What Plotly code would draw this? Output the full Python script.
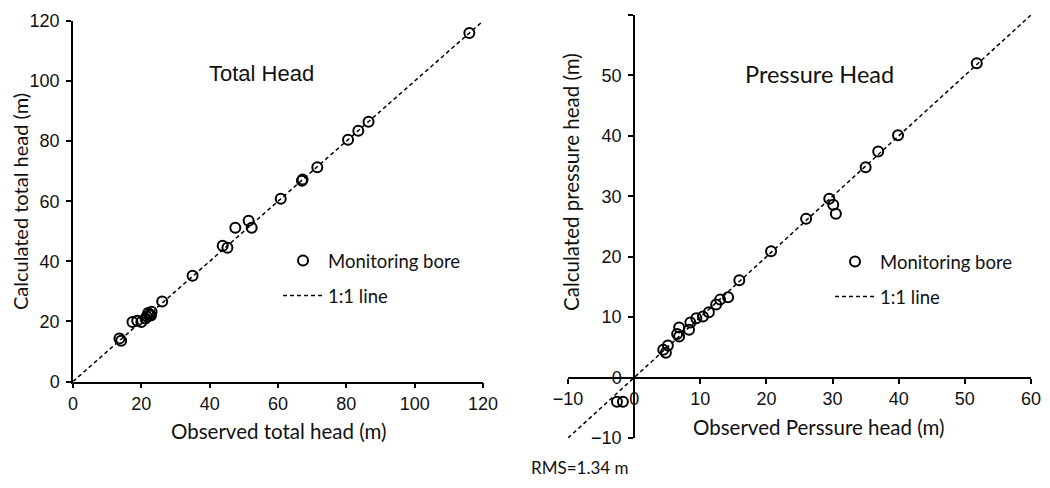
import plotly.graph_objects as go

# ---------------- data ----------------
# Total head (m): observed vs calculated
total_obs = [116.0, 86.5, 83.5, 80.5, 71.5, 67.0, 67.2, 60.8, 51.4, 52.3, 47.5,
             43.8, 45.2, 35.0, 26.1, 23.0, 22.5, 22.0, 21.6, 22.8, 21.2, 20.0,
             18.8, 17.4, 13.6, 14.1]
total_calc = [116.0, 86.5, 83.5, 80.5, 71.3, 66.8, 67.2, 60.8, 53.5, 51.2, 51.2,
              45.2, 44.5, 35.2, 26.6, 23.2, 22.2, 22.8, 21.6, 22.0, 21.0, 19.8,
              20.2, 19.8, 14.3, 13.6]

# Pressure head (m): observed vs calculated
press_obs = [51.8, 39.9, 36.9, 35.0, 29.5, 30.1, 30.5, 26.0, 20.7, 15.9, 14.2,
             13.0, 12.4, 11.3, 10.4, 9.4, 8.5, 8.3, 6.8, 6.8, 6.5, 5.1, 4.4, 4.8,
             -2.6, -1.7]
press_calc = [52.0, 40.1, 37.4, 34.8, 29.6, 28.6, 27.1, 26.3, 20.9, 16.1, 13.3,
              12.9, 12.1, 10.8, 10.1, 9.8, 9.1, 7.9, 8.3, 6.8, 7.2, 5.3, 4.6, 4.1,
              -4.0, -4.0]

line_total = [0, 120]
line_press = [-10, 60]

total_ticks = [0, 20, 40, 60, 80, 100, 120]
press_ticks = [-10, 0, 10, 20, 30, 40, 50, 60]

# ---------------- figure ----------------
# the page body has an 8px margin, so the figure is drawn 8px in from the window edge
OFF = 8
W, H = 1050 - 2 * OFF, 488 - 2 * OFF


def px_x(p):
    return (p - OFF) / W


def px_y(p):
    return 1 - (p - OFF) / H


TICKFONT = dict(family="Liberation Sans, Arial", size=18, color="#111")
LATO = "Lato, Noto Sans, sans-serif"
marker = dict(symbol="circle-open", size=10, color="black", line=dict(width=2, color="black"))
dline = dict(color="black", width=1.5, dash="4px,3px")

fig = go.Figure()

fig.add_trace(go.Scatter(x=total_obs, y=total_calc, mode="markers", marker=marker,
                         name="Monitoring bore", xaxis="x", yaxis="y",
                         legend="legend", legendgroup="a"))
fig.add_trace(go.Scatter(x=line_total, y=line_total, mode="lines", line=dline,
                         name="1:1 line", xaxis="x", yaxis="y",
                         legend="legend", legendgroup="b"))
fig.add_trace(go.Scatter(x=press_obs, y=press_calc, mode="markers", marker=marker,
                         name="Monitoring bore", xaxis="x2", yaxis="y2",
                         legend="legend2", legendgroup="c"))
fig.add_trace(go.Scatter(x=line_press, y=line_press, mode="lines", line=dline,
                         name="1:1 line", xaxis="x2", yaxis="y2",
                         legend="legend2", legendgroup="d"))

axis_common = dict(showgrid=False, zeroline=False, showline=True, linecolor="black",
                   linewidth=1.5, ticks="outside", ticklen=5, tickwidth=1.5,
                   tickcolor="black", tickfont=TICKFONT, automargin=False)

legend_common = dict(xanchor="left", yanchor="top",
                     font=dict(family=LATO, size=18.5, color="#111"),
                     bgcolor="rgba(0,0,0,0)", tracegroupgap=8, traceorder="grouped",
                     itemwidth=40)

fig.update_layout(
    width=W, height=H,
    margin=dict(l=0, r=0, t=0, b=0),
    paper_bgcolor="white", plot_bgcolor="white",
    xaxis=dict(domain=[px_x(73), px_x(483)], range=[0, 120], tickvals=total_ticks,
               anchor="y", **axis_common),
    yaxis=dict(domain=[px_y(381.5), px_y(21)], range=[0, 120], tickvals=total_ticks,
               anchor="x", ticklabelstandoff=3, **axis_common),
    xaxis2=dict(domain=[px_x(568), px_x(1031)], range=[-10, 60], tickvals=press_ticks,
                anchor="free", position=px_y(378), **axis_common),
    yaxis2=dict(domain=[px_y(438), px_y(15)], range=[-10, 60], tickvals=press_ticks,
                anchor="free", position=px_x(634), ticklabelstandoff=3, **axis_common),
    legend=dict(x=px_x(278), y=px_y(242), **legend_common),
    legend2=dict(x=px_x(830), y=px_y(243), **legend_common),
)

annots = [
    dict(text="Total Head", x=px_x(262), y=px_y(74),
         font=dict(family="Liberation Sans, Arial", size=22, color="#111")),
    dict(text="Pressure Head", x=px_x(819), y=px_y(74),
         font=dict(family=LATO, size=23.5, color="#111")),
    dict(text="Calculated total head (m)", x=px_x(20), y=px_y(202), textangle=-90,
         font=dict(family=LATO, size=20, color="#111")),
    dict(text="Observed total head (m)", x=px_x(279), y=px_y(431),
         font=dict(family=LATO, size=20.5, color="#111")),
    dict(text="Calculated pressure head (m)", x=px_x(571), y=px_y(182), textangle=-90,
         font=dict(family=LATO, size=20.5, color="#111")),
    dict(text="Observed Perssure head (m)", x=px_x(818), y=px_y(427),
         font=dict(family=LATO, size=20.5, color="#111")),
    dict(text="RMS=1.34 m", x=px_x(579), y=px_y(467),
         font=dict(family=LATO, size=17, color="#111")),
]
for a in annots:
    fig.add_annotation(xref="paper", yref="paper", showarrow=False,
                       xanchor="center", yanchor="middle", **a)

fig.write_html("out.html")
